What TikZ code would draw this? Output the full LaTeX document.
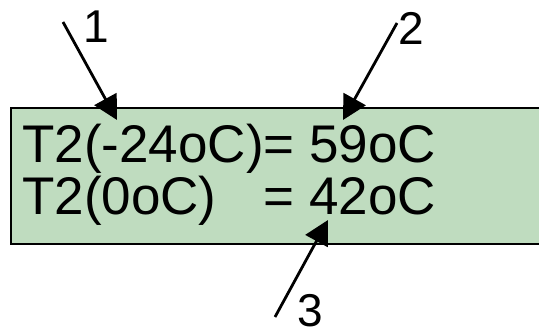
\documentclass[tikz,border=0pt]{standalone}
\usepackage{fontspec}
\setmainfont{Liberation Sans}
\usetikzlibrary{arrows.meta}
\definecolor{panelgreen}{RGB}{191,220,191}
\tikzset{
  pointer/.style={line width=2.8pt,-{Triangle[length=24pt,width=25pt]}},
  numlabel/.style={font=\fontsize{46}{46}\selectfont,inner sep=0pt},
  readout/.style={font=\fontsize{53}{53}\selectfont,inner sep=0pt,anchor=base west},
}
\begin{document}
\begin{tikzpicture}[x=1pt,y=-1pt]
        \useasboundingbox (0,0) rectangle (539,332);

        % display panel
        \fill[panelgreen] (11,108) rectangle (539,244);
        \draw[line width=1.5pt] (539,108) -- (11,108) -- (11,244) -- (539,244);

        \node[readout] (t1) at (22,162.5) {T2(-24oC)= 59oC};
        \node[readout] (t2) at (22,214) {\rlap{T2(0oC)}\phantom{T2(-24oC)}= 42oC};

        % tails and tips of the pointers
        \coordinate (s1) at (63,22);
        \coordinate (e1) at (117,120);
        \coordinate (s2) at (397,23);
        \coordinate (e2) at (343,120);
        \coordinate (s3) at (275,317);
        \coordinate (e3) at (328,220);

        \node[numlabel] (n1) at (96,27) {1};
        \node[numlabel] (n2) at (411,28) {2};
        \node[numlabel] (n3) at (310,311) {3};

        \draw[pointer] (s1) -- (e1);
        \draw[pointer] (s2) -- (e2);
        \draw[pointer] (s3) -- (e3);

    \end{tikzpicture}
\end{document}
